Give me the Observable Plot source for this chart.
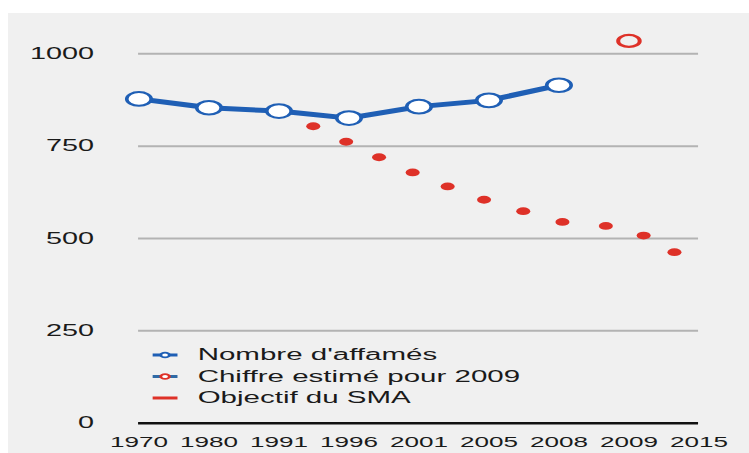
<!DOCTYPE html>
<html><head><meta charset="utf-8">
<script src="https://cdn.jsdelivr.net/npm/d3@7"></script>
<script src="https://cdn.jsdelivr.net/npm/@observablehq/plot@0.6"></script>
<style>
html,body{margin:0;padding:0;background:#fff;}
#wrap{position:relative;width:749px;height:453px;overflow:hidden;}
#bg{position:absolute;left:8px;top:13px;right:0;bottom:0;background:#f0f0f0;}
#chart{position:absolute;left:0;top:0;transform-origin:0 0;transform:scaleX(1.8);}
</style></head><body>
<div id="wrap"><div id="bg"></div><div id="chart"></div></div>
<script>
// Tick labels (categorical positions 0..8)
const xLabels = ["1970","1980","1991","1996","2001","2005","2008","2009","2015"];
const yTicks = [0, 250, 500, 750, 1000];

// Nombre d'affamés (millions)
const hungryPos = [0, 1, 2, 3, 4, 5, 6];
const hungryVals = [878, 854, 845, 826, 857, 874, 915];

// Chiffre estimé pour 2009
const estimatePos = [7];
const estimateVals = [1035];

// Objectif du SMA (trajectory dots)
const mdgPos = [2.49, 2.96, 3.43, 3.91, 4.41, 4.93, 5.49, 6.05, 6.67, 7.21, 7.65];
const mdgVals = [804, 762, 720, 679, 641, 605, 574, 545, 534, 508, 463];

// Legend
const legendLabels = ["Nombre d'affamés", "Chiffre estimé pour 2009", "Objectif du SMA"];

const S = 1.8; // horizontal stretch of the original picture
const BLUE = "#1f5fb5", RED = "#de3128", INK = "#1a1a1a";

const hungry = hungryPos.map((p, i) => ({p, v: hungryVals[i]}));
const estimate = estimatePos.map((p, i) => ({p, v: estimateVals[i]}));
const mdg = mdgPos.map((p, i) => ({p, v: mdgVals[i]}));

const segSymbol = {draw(ctx, size) { const r = Math.sqrt(size / Math.PI); ctx.moveTo(-r, 0); ctx.lineTo(r, 0); }};

const rowsDy = [-68.2, -46.7, -25.2];
const swDx = 14.5, txDx = 32.6;
const legendMarks = [
  Plot.dot([0], {frameAnchor: "bottom-left", dx: swDx, dy: rowsDy[0], symbol: segSymbol, r: 6.9, stroke: BLUE, strokeWidth: 3, fill: "none"}),
  Plot.dot([0], {frameAnchor: "bottom-left", dx: swDx, dy: rowsDy[0], r: 2.4, stroke: BLUE, strokeWidth: 1.6, fill: "white"}),
  Plot.dot([0], {frameAnchor: "bottom-left", dx: swDx, dy: rowsDy[1], symbol: segSymbol, r: 6.9, stroke: "#2f6aa6", strokeWidth: 3, fill: "none"}),
  Plot.dot([0], {frameAnchor: "bottom-left", dx: swDx, dy: rowsDy[1], r: 2.4, stroke: RED, strokeWidth: 1.6, fill: "white"}),
  Plot.dot([0], {frameAnchor: "bottom-left", dx: swDx, dy: rowsDy[2], symbol: segSymbol, r: 6.9, stroke: RED, strokeWidth: 3, fill: "none"}),
  ...legendLabels.map((t, i) => Plot.text([t], {frameAnchor: "bottom-left", text: d => d, dx: txDx, dy: rowsDy[i], textAnchor: "start", lineAnchor: "middle", fontSize: 16.4, fill: INK}))
];

const chart = Plot.plot({
  width: 749 / S,
  height: 453,
  marginLeft: 76.7,
  marginRight: 28.3,
  marginTop: 16.4,
  marginBottom: 30.3,
  style: {fontFamily: "'Liberation Sans', Arial, Helvetica, sans-serif", background: "transparent", color: INK, overflow: "visible"},
  x: {type: "linear", domain: [0, 8]},
  y: {domain: [0, 1100]},
  marks: [
    Plot.gridY([250, 500, 750, 1000], {stroke: "#b3b3b3", strokeOpacity: 1, strokeWidth: 2}),
    Plot.ruleY([0], {stroke: "#111", strokeWidth: 2.5}),
    Plot.axisY(yTicks, {tickSize: 0, tickPadding: 25, fontSize: 16, label: null, tickFormat: d => String(d)}),
    Plot.axisX(d3.range(xLabels.length), {tickSize: 0, tickPadding: 13.5, fontSize: 14.5, tickFormat: i => xLabels[i], label: null}),
    Plot.dot(mdg, {x: "p", y: "v", r: 3.9, fill: RED, stroke: "none"}),
    Plot.line(hungry, {x: "p", y: "v", stroke: BLUE, strokeWidth: 5}),
    Plot.dot(hungry, {x: "p", y: "v", r: 6.8, fill: "white", stroke: BLUE, strokeWidth: 2}),
    Plot.dot(estimate, {x: "p", y: "v", r: 6, fill: "none", stroke: RED, strokeWidth: 2.2}),
    ...legendMarks
  ]
});
document.getElementById("chart").appendChild(chart);
</script>
</body></html>
